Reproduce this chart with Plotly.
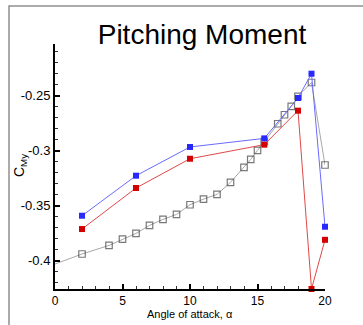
import plotly.graph_objects as go

# Data
alpha_sparse = [2, 6, 10, 15.5, 18, 19, 20]
cmy_blue = [-0.3591, -0.3227, -0.2966, -0.2888, -0.2521, -0.2300, -0.3691]
cmy_red = [-0.3712, -0.3339, -0.3073, -0.2945, -0.2636, -0.4257, -0.3810]

alpha_dense = [0, 2, 4, 5, 6, 7, 8, 9, 10, 11, 12, 13, 14, 14.5, 15, 15.5, 16.5, 17, 17.5, 18, 19, 20]
cmy_gray = [-0.4030, -0.3939, -0.3861, -0.3803, -0.3752, -0.3679, -0.3624, -0.3579, -0.3491,
            -0.3440, -0.3397, -0.3288, -0.3152, -0.3078, -0.2997, -0.2918, -0.2755, -0.2673,
            -0.2597, -0.2506, -0.2380, -0.3130]

ytick_vals = [-0.4, -0.35, -0.3, -0.25]
ytick_text = ["-0.4", "-0.35", "-0.3", "-0.25"]
xtick_vals = [0, 5, 10, 15, 20]
xtick_text = ["0", "5", "10", "15", "20"]

FONT = "Liberation Sans, Arial, sans-serif"

fig = go.Figure()

gray_sizes = [0] + [6.5] * (len(alpha_dense) - 1)
fig.add_trace(go.Scatter(
    x=alpha_dense, y=cmy_gray, mode="lines+markers",
    line=dict(color="#a8a8a8", width=1),
    marker=dict(symbol="square-open", size=gray_sizes, color="#404040", line=dict(width=1.2)),
    cliponaxis=False, showlegend=False))

fig.add_trace(go.Scatter(
    x=alpha_sparse, y=cmy_red, mode="lines+markers",
    line=dict(color="#e04848", width=1),
    marker=dict(symbol="square", size=6, color="#d40000"),
    cliponaxis=False, showlegend=False))

fig.add_trace(go.Scatter(
    x=alpha_sparse, y=cmy_blue, mode="lines+markers",
    line=dict(color="#6a6aff", width=1),
    marker=dict(symbol="square", size=6, color="#2828ff"),
    cliponaxis=False, showlegend=False))

fig.update_layout(
    width=363, height=325,
    margin=dict(l=55, r=38, t=44, b=36, autoexpand=False),
    paper_bgcolor="white", plot_bgcolor="white",
    font=dict(family=FONT, color="black"),
    title=dict(text="Pitching Moment", x=202/363, xref="container", xanchor="center",
               y=1 - 34/325, yref="container", yanchor="middle",
               font=dict(size=28, family=FONT, color="black")),
    xaxis=dict(range=[0, 20], showgrid=False, zeroline=False,
               showline=True, linecolor="black", linewidth=2,
               ticks="inside", ticklen=5, tickwidth=1.5, tickcolor="black",
               tickvals=xtick_vals, ticktext=xtick_text,
               minor=dict(ticks="inside", ticklen=3, tickwidth=1, dtick=1, tickcolor="#333333"),
               tickfont=dict(size=12)),
    yaxis=dict(range=[-0.4257, -0.203], showgrid=False, zeroline=False,
               showline=True, linecolor="black", linewidth=2,
               ticks="inside", ticklen=5, tickwidth=1.5, tickcolor="black",
               tickvals=ytick_vals, ticktext=ytick_text,
               minor=dict(ticks="inside", ticklen=3, tickwidth=1, dtick=0.01, tickcolor="#333333",
                          tick0=-0.4),
               tickfont=dict(size=13)),
    shapes=[dict(type="rect", xref="paper", yref="paper",
                 x0=(9 - 55) / 270, x1=(400 - 55) / 270,
                 y0=(36 - 400) / 245, y1=(325 - 6 - 36) / 245,
                 line=dict(color="#909090", width=1.5), fillcolor="rgba(0,0,0,0)", layer="below")],
    annotations=[
        dict(text="C<sub>My</sub>", xref="paper", yref="paper",
             x=(20 - 55) / 270, y=(325 - 36 - 166) / 245,
             xanchor="center", yanchor="middle", textangle=-90, showarrow=False,
             font=dict(size=14, family=FONT, color="black")),
        dict(text="Angle of attack, α", xref="paper", yref="paper",
             x=(190 - 55) / 270, y=(325 - 36 - 314) / 245,
             xanchor="center", yanchor="middle", showarrow=False,
             font=dict(size=11, family=FONT, color="black")),
    ],
)

fig.write_html("out.html")
